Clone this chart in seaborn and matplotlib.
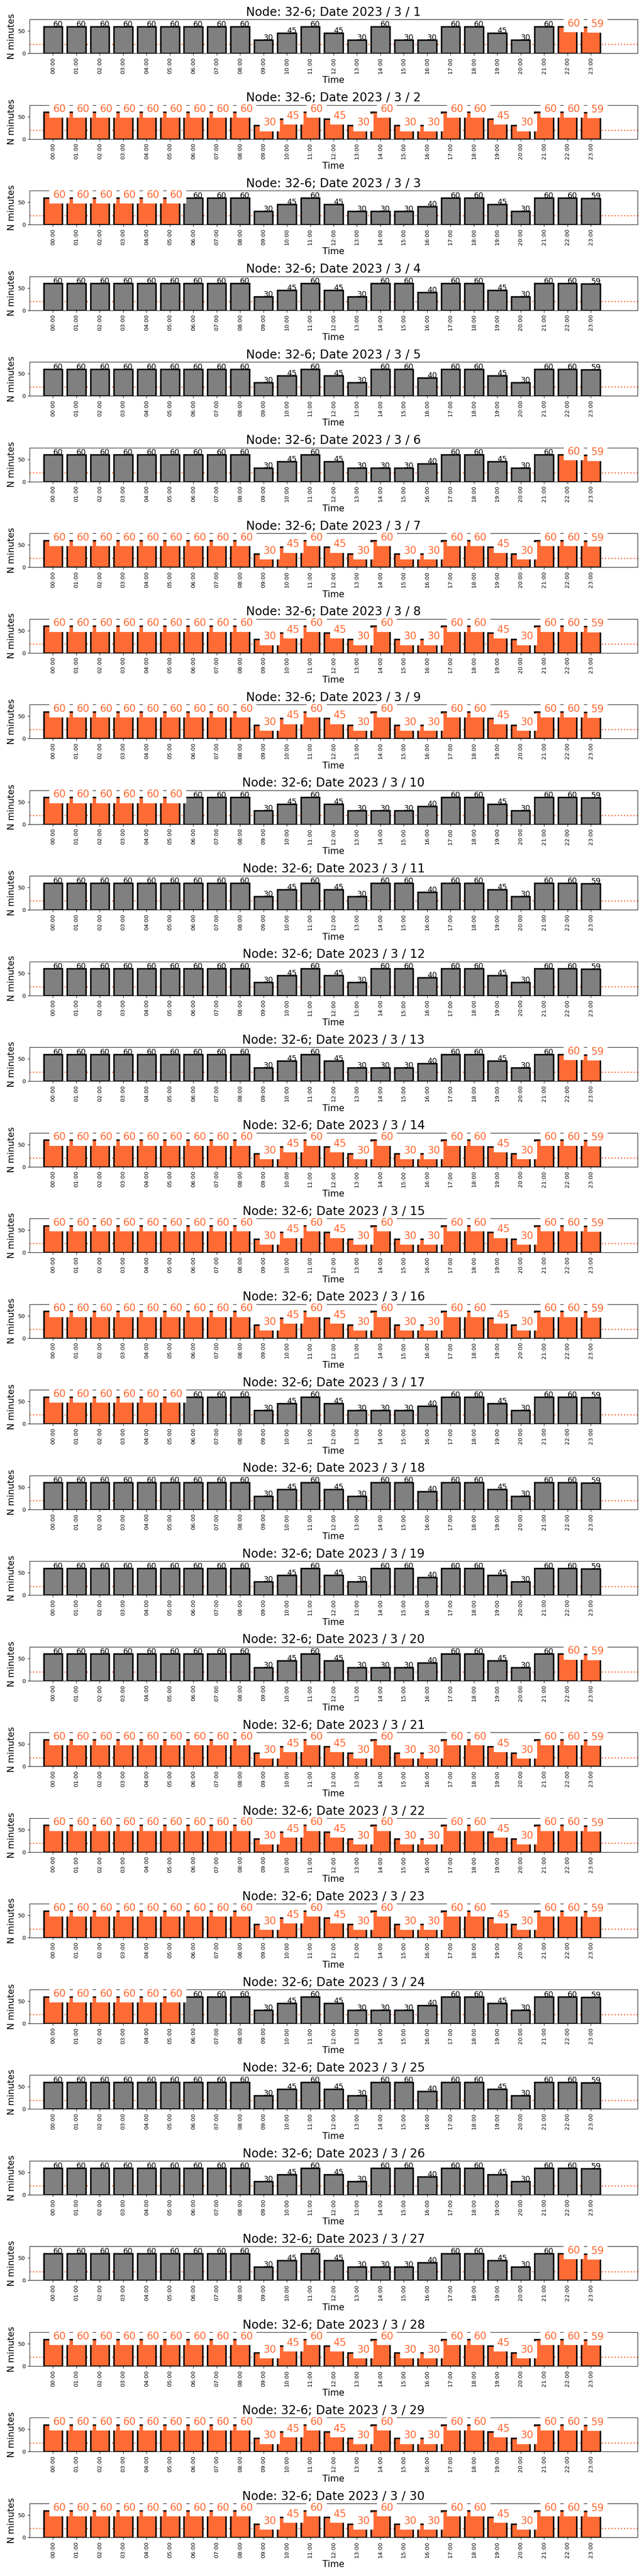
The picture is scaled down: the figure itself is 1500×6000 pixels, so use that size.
import pandas as pd
import seaborn as sns
import matplotlib
matplotlib.use("Agg")
import matplotlib.pyplot as plt

# hourly labels on the x axis
hours = ["00:00", "01:00", "02:00", "03:00", "04:00", "05:00", "06:00", "07:00",
         "08:00", "09:00", "10:00", "11:00", "12:00", "13:00", "14:00", "15:00",
         "16:00", "17:00", "18:00", "19:00", "20:00", "21:00", "22:00", "23:00"]

# minutes per hour, three day profiles
profile_a = [60, 60, 60, 60, 60, 60, 60, 60, 60, 30, 45, 60,
             45, 30, 60, 30, 30, 60, 60, 45, 30, 60, 60, 59]
profile_b = [60, 60, 60, 60, 60, 60, 60, 60, 60, 30, 45, 60,
             45, 30, 30, 30, 40, 60, 60, 45, 30, 60, 60, 59]
profile_c = [60, 60, 60, 60, 60, 60, 60, 60, 60, 30, 45, 60,
             45, 30, 60, 60, 40, 60, 60, 45, 30, 60, 60, 59]

days = [1, 2, 3, 4, 5, 6, 7, 8, 9, 10, 11, 12, 13, 14, 15,
        16, 17, 18, 19, 20, 21, 22, 23, 24, 25, 26, 27, 28, 29, 30]
day_profile = ["a", "a", "b", "c", "c", "b", "a", "a", "a", "b",
               "c", "c", "b", "a", "a", "a", "b", "c", "c", "b",
               "a", "a", "a", "b", "c", "c", "b", "a", "a", "a"]
day_highlight = ["late", "all", "early", "none", "none", "late", "all", "all", "all", "early",
                 "none", "none", "late", "all", "all", "all", "early", "none", "none", "late",
                 "all", "all", "all", "early", "none", "none", "late", "all", "all", "all"]

# which hours get the orange highlight
late_hours = ["22:00", "23:00"]
early_hours = ["00:00", "01:00", "02:00", "03:00", "04:00", "05:00"]

threshold = 20

profiles = {"a": profile_a, "b": profile_b, "c": profile_c}
highlight_hours = {"late": late_hours, "early": early_hours, "all": hours, "none": []}

gray = "#808080"
orange = "#FF6B35"

fig, axes = plt.subplots(len(days), 1, figsize=(15, 60))
fig.subplots_adjust(left=0.046, right=0.99, top=0.9925, bottom=0.015, hspace=1.525)

for ax, day, prof, hl in zip(axes, days, day_profile, day_highlight):
    values = profiles[prof]
    flags = ["hi" if h in highlight_hours[hl] else "lo" for h in hours]
    df = pd.DataFrame({"Time": hours, "minutes": values, "flag": flags})

    ax.axhline(threshold, color=orange, linestyle=":", linewidth=2, zorder=0.5)
    sns.barplot(data=df, x="Time", y="minutes", hue="flag",
                palette={"lo": gray, "hi": orange}, dodge=False, saturation=1,
                width=0.8, edgecolor="black", linewidth=2.5, legend=False, ax=ax)

    # value labels
    for i, (v, f) in enumerate(zip(values, flags)):
        if f == "hi":
            ax.text(i, v, str(v), ha="left", va="baseline", fontsize=17, color=orange,
                    bbox=dict(boxstyle="square,pad=0.35", fc="white", ec="none"),
                    clip_on=False, zorder=4)
        else:
            ax.text(i, v, str(v), ha="left", va="baseline", fontsize=13, color="black")

    ax.set_title(f"Node: 32-6; Date 2023 / 3 / {day}", fontsize=20)
    ax.title.set_zorder(6)
    ax.set_xlim(-1, 25)
    ax.set_ylim(0, 76)
    ax.set_yticks([0, 50])
    ax.set_xlabel("Time", fontsize=15)
    ax.set_ylabel("N minutes", fontsize=15)
    ax.tick_params(axis="x", labelrotation=90, labelsize=9.5)
    ax.tick_params(axis="y", labelsize=9.5)

fig.savefig("out.png", dpi=100)
